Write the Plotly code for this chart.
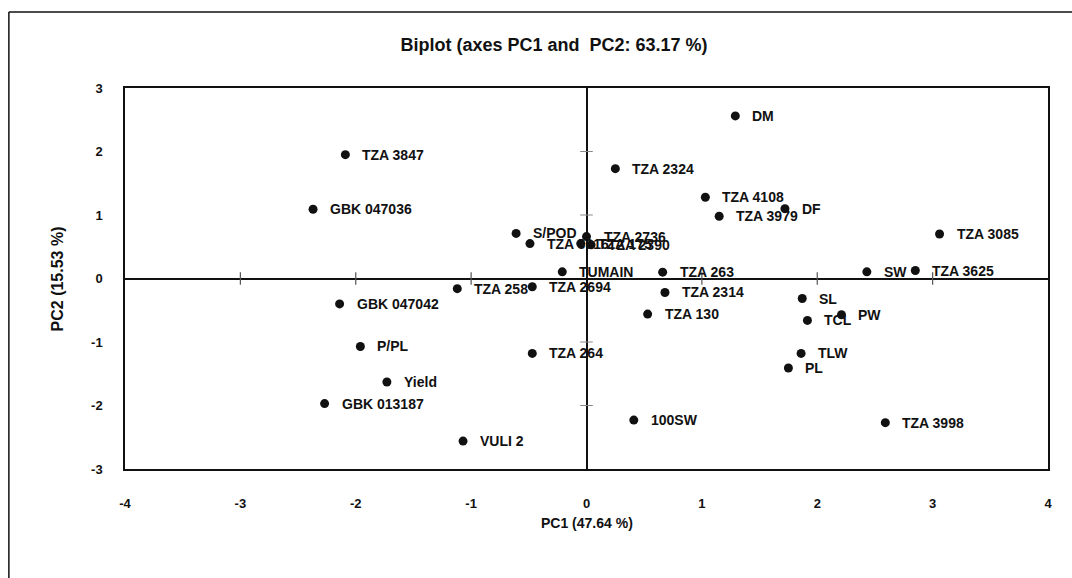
import plotly.graph_objects as go

# ---- data ----
labels = [
    "DM", "TZA 2324", "TZA 4108", "TZA 3979", "DF", "TZA 263", "TZA 2314", "TZA 130",
    "TUMAIN", "TZA 2694", "TZA 258", "S/POD", "TZA 3616", "TZA 2736", "TZA 175", "TZA 2390",
    "TZA 3085", "SW", "TZA 3625", "SL", "TCL", "PW", "TLW", "PL", "TZA 3998",
    "TZA 3847", "GBK 047036", "GBK 047042", "P/PL", "Yield", "GBK 013187", "VULI 2",
    "TZA 264", "100SW",
]
pc1 = [
    1.29, 0.25, 1.03, 1.15, 1.72, 0.66, 0.68, 0.53,
    -0.21, -0.47, -1.12, -0.61, -0.49, 0.00, -0.05, 0.04,
    3.06, 2.43, 2.85, 1.87, 1.915, 2.21, 1.86, 1.75, 2.59,
    -2.09, -2.37, -2.14, -1.96, -1.73, -2.27, -1.07,
    -0.47, 0.41,
]
pc2 = [
    2.56, 1.73, 1.28, 0.98, 1.10, 0.10, -0.22, -0.56,
    0.105, -0.13, -0.16, 0.71, 0.55, 0.66, 0.55, 0.53,
    0.70, 0.105, 0.126, -0.315, -0.66, -0.57, -1.18, -1.41, -2.27,
    1.95, 1.09, -0.40, -1.07, -1.63, -1.97, -2.56,
    -1.18, -2.23,
]
x_ticks = [-4, -3, -2, -1, 0, 1, 2, 3, 4]
y_ticks = [-3, -2, -1, 0, 1, 2, 3]
x_minor = [-3, -2, -1, 1, 2, 3]
y_minor = [-2, -1, 1, 2]

title_text = "Biplot (axes PC1 and  PC2: 63.17 %)"
x_title = "PC1 (47.64 %)"
y_title = "PC2 (15.53 %)"

FONT = "Liberation Sans"
BLACK = "#111111"

fig = go.Figure()

# small tick marks along the zero axes
fig.add_trace(go.Scatter(
    x=x_minor, y=[0] * len(x_minor), mode="markers",
    marker=dict(symbol="line-ns", size=9, line=dict(color="#555555", width=1.2)),
    hoverinfo="skip", showlegend=False,
))
fig.add_trace(go.Scatter(
    x=[0] * len(y_minor), y=y_minor, mode="markers",
    marker=dict(symbol="line-ew", size=9, line=dict(color="#888888", width=1)),
    hoverinfo="skip", showlegend=False,
))

# points
fig.add_trace(go.Scatter(
    x=pc1, y=pc2, mode="markers",
    marker=dict(color=BLACK, size=9),
    text=labels, hoverinfo="text", showlegend=False,
))

annotations = []
for lab, xv, yv in zip(labels, pc1, pc2):
    annotations.append(dict(
        x=xv, y=yv, xref="x", yref="y", text=lab, showarrow=False,
        xanchor="left", yanchor="middle", xshift=15, yshift=0,
        font=dict(family=FONT, size=14, color=BLACK, weight="bold"),
    ))

# axis titles
annotations.append(dict(
    x=0.5, y=-54 / 381, xref="paper", yref="paper", text=x_title, showarrow=False,
    xanchor="center", yanchor="middle",
    font=dict(family=FONT, size=14, color=BLACK, weight="bold"),
))
annotations.append(dict(
    x=-67 / 922, y=0.5, xref="paper", yref="paper", text=y_title, showarrow=False,
    xanchor="center", yanchor="middle", textangle=-90,
    font=dict(family=FONT, size=16, color=BLACK, weight="bold"),
))

fig.update_layout(
    width=1072, height=578,
    margin=dict(l=125, r=24, t=88, b=109),
    paper_bgcolor="white", plot_bgcolor="white",
    title=dict(
        text=title_text, x=554 / 1072, xref="container", xanchor="center",
        y=1 - 45 / 578, yref="container", yanchor="middle",
        font=dict(family=FONT, size=18, color=BLACK, weight="bold"),
    ),
    annotations=annotations,
    shapes=[
        # outer frame (top and left edges)
        dict(type="line", xref="paper", yref="paper",
             x0=-116 / 922, x1=1.2, y0=(469 - 12) / 381, y1=(469 - 12) / 381,
             line=dict(color=BLACK, width=1.5)),
        dict(type="line", xref="paper", yref="paper",
             x0=-116 / 922, x1=-116 / 922, y0=(469 - 12) / 381, y1=-0.4,
             line=dict(color=BLACK, width=1.5)),
    ],
    xaxis=dict(
        range=[-4, 4], tickvals=x_ticks, ticktext=[str(v) for v in x_ticks],
        showgrid=False, zeroline=True, zerolinecolor=BLACK, zerolinewidth=1.5,
        showline=True, mirror=True, linecolor=BLACK, linewidth=1.5,
        ticks="", ticklabelstandoff=22,
        tickfont=dict(family=FONT, size=13, color=BLACK, weight="bold"),
    ),
    yaxis=dict(
        range=[-3, 3], tickvals=y_ticks, ticktext=[str(v) for v in y_ticks],
        showgrid=False, zeroline=True, zerolinecolor=BLACK, zerolinewidth=1.5,
        showline=True, mirror=True, linecolor=BLACK, linewidth=1.5,
        ticks="", ticklabelstandoff=18,
        tickfont=dict(family=FONT, size=13, color=BLACK, weight="bold"),
    ),
)

fig.write_html("out.html")
